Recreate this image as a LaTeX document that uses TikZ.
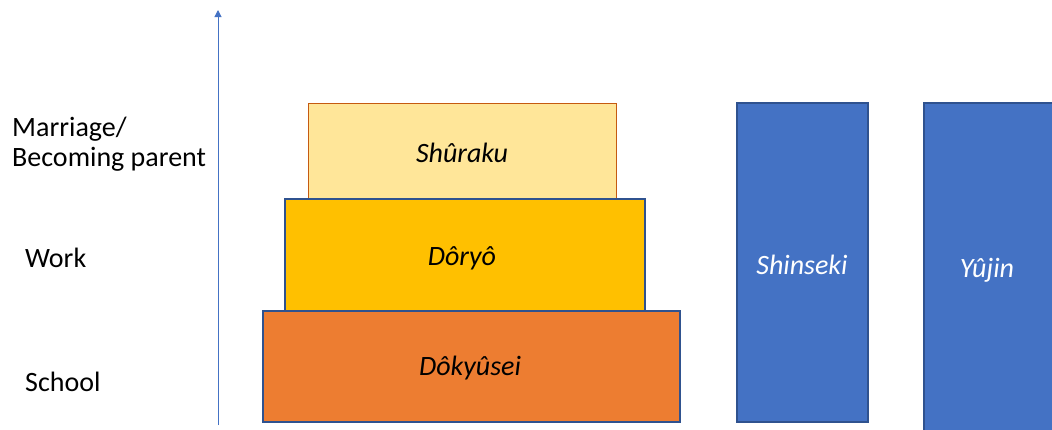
\documentclass[tikz,border=0pt]{standalone}
\usepackage{fontspec}
\setmainfont{Carlito}
\usetikzlibrary{arrows.meta}
\definecolor{lyel}{HTML}{FFE699}
\definecolor{gold}{HTML}{FFC000}
\definecolor{orng}{HTML}{ED7D31}
\definecolor{blu}{HTML}{4472C4}
\definecolor{dblu}{HTML}{2F528F}
\definecolor{brn}{HTML}{C55A11}
\begin{document}
\begin{tikzpicture}[x=1pt,y=-1pt,
  lvl/.style={font=\fontsize{28}{30}\selectfont\itshape},
  side/.style={font=\fontsize{28}{30}\selectfont, anchor=west, align=left, inner sep=0pt},
  box/.style={line width=1.2pt}]
\useasboundingbox (0,0) rectangle (1052,429);
\fill[white] (0,0) rectangle (1052,429);
% axis
\coordinate (ab) at (218,425);
\coordinate (at) at (218,10);
\draw[blu, line width=1pt, -{Triangle[length=7pt,width=7pt]}] (ab) -- (at);
% boxes
\draw[box, draw=brn, line width=0.8pt, fill=lyel] (308,103) rectangle (616,198);
\node[lvl] (shuraku) at (462,153) {Shûraku};
\draw[box, draw=dblu, fill=gold] (285,199) rectangle (645,311);
\node[lvl] (doryo) at (462,258) {Dôryô};
\draw[box, draw=dblu, fill=orng] (263,311) rectangle (680,422);
\node[lvl] (dokyusei) at (470,368) {Dôkyûsei};
\draw[box, draw=dblu, fill=blu] (737,103) rectangle (868,422);
\node[lvl, text=white] (shinseki) at (802,265) {Shinseki};
\draw[box, draw=dblu, fill=blu] (924,103) rectangle (1060,440);
\node[lvl, text=white] (yujin) at (987,270) {Yûjin};
% side labels
\node[side] (marriage) at (12,144) {Marriage/\\Becoming parent};
\node[side] (work) at (25,258) {Work};
\node[side] (school) at (25,382) {School};
\end{tikzpicture}
\end{document}
